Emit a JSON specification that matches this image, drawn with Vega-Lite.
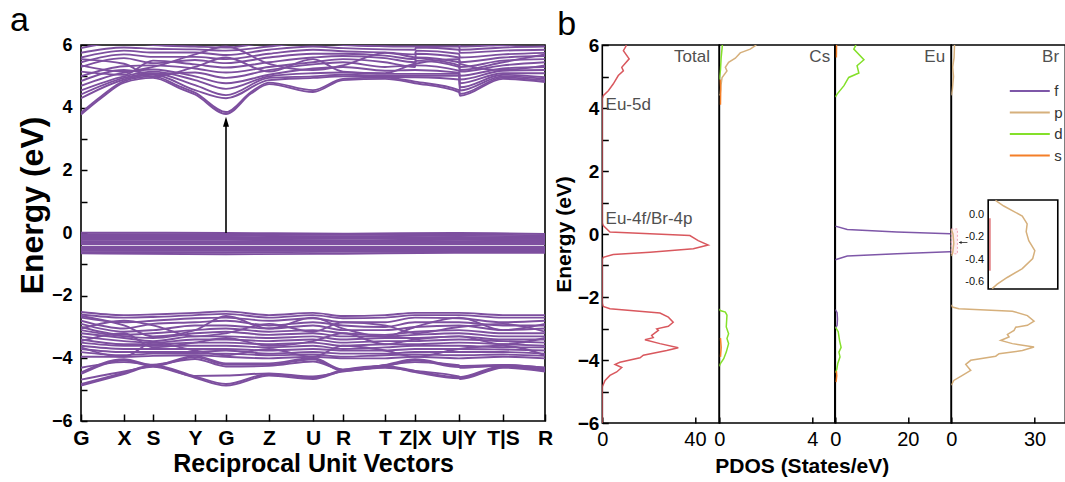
{
"$schema": "https://vega.github.io/schema/vega-lite/v6.json",
"background": "white",
"padding": {"left": 9, "top": 3, "right": 0, "bottom": 0},
"config": {
  "font": "Liberation Sans",
  "view": {"stroke": "#000", "strokeWidth": 1.6},
  "axis": {"grid": false, "domain": false, "tickColor": "#000", "tickWidth": 1.5, "labelColor": "#000", "titleColor": "#000", "labelFont": "Liberation Sans", "titleFont": "Liberation Sans"},
  "title": {"font": "Liberation Sans", "color": "#000"},
  "text": {"font": "Liberation Sans"}
},
"datasets": {
"bands": [
{"b":"c1","k":0,"e":3.78},{"b":"c1","k":20,"e":4.3},{"b":"c1","k":43,"e":4.8},{"b":"c1","k":72,"e":4.95},{"b":"c1","k":100,"e":4.6},{"b":"c1","k":114,"e":4.42},{"b":"c1","k":145,"e":3.8},{"b":"c1","k":170,"e":4.45},{"b":"c1","k":188,"e":4.75},{"b":"c1","k":232,"e":4.5},{"b":"c1","k":262,"e":4.88},{"b":"c1","k":304,"e":4.92},{"b":"c1","k":334,"e":4.78},{"b":"c1","k":378,"e":4.5},{"b":"c1","k":379,"e":4.38},{"b":"c1","k":422,"e":4.92},{"b":"c1","k":464,"e":4.82},
{"b":"c2","k":0,"e":3.84},{"b":"c2","k":20,"e":4.36},{"b":"c2","k":43,"e":4.85},{"b":"c2","k":72,"e":5.0},{"b":"c2","k":100,"e":4.66},{"b":"c2","k":114,"e":4.48},{"b":"c2","k":145,"e":3.86},{"b":"c2","k":170,"e":4.5},{"b":"c2","k":188,"e":4.8},{"b":"c2","k":232,"e":4.56},{"b":"c2","k":262,"e":4.92},{"b":"c2","k":304,"e":4.96},{"b":"c2","k":334,"e":4.83},{"b":"c2","k":378,"e":4.56},{"b":"c2","k":379,"e":4.44},{"b":"c2","k":422,"e":4.96},{"b":"c2","k":464,"e":4.87},
{"b":"c3","k":0,"e":4.3},{"b":"c3","k":43,"e":4.9},{"b":"c3","k":72,"e":5.05},{"b":"c3","k":114,"e":4.56},{"b":"c3","k":145,"e":4.3},{"b":"c3","k":188,"e":4.88},{"b":"c3","k":232,"e":4.95},{"b":"c3","k":262,"e":5.0},{"b":"c3","k":304,"e":4.98},{"b":"c3","k":334,"e":4.97},{"b":"c3","k":378,"e":4.9},{"b":"c3","k":379,"e":4.55},{"b":"c3","k":422,"e":5.0},{"b":"c3","k":464,"e":4.92},
{"b":"c4","k":0,"e":4.42},{"b":"c4","k":43,"e":4.95},{"b":"c4","k":72,"e":5.1},{"b":"c4","k":114,"e":4.72},{"b":"c4","k":145,"e":4.4},{"b":"c4","k":188,"e":4.95},{"b":"c4","k":232,"e":5.0},{"b":"c4","k":262,"e":5.05},{"b":"c4","k":304,"e":5.02},{"b":"c4","k":334,"e":5.02},{"b":"c4","k":378,"e":5.02},{"b":"c4","k":379,"e":4.65},{"b":"c4","k":422,"e":5.05},{"b":"c4","k":464,"e":4.97},
{"b":"c5","k":0,"e":4.55},{"b":"c5","k":43,"e":5.0},{"b":"c5","k":72,"e":5.15},{"b":"c5","k":114,"e":4.88},{"b":"c5","k":145,"e":4.6},{"b":"c5","k":188,"e":5.0},{"b":"c5","k":232,"e":5.1},{"b":"c5","k":262,"e":5.12},{"b":"c5","k":304,"e":5.08},{"b":"c5","k":334,"e":5.08},{"b":"c5","k":378,"e":5.08},{"b":"c5","k":379,"e":4.78},{"b":"c5","k":422,"e":5.1},{"b":"c5","k":464,"e":5.1},
{"b":"c6","k":0,"e":4.7},{"b":"c6","k":43,"e":5.12},{"b":"c6","k":72,"e":5.22},{"b":"c6","k":114,"e":5.0},{"b":"c6","k":145,"e":4.78},{"b":"c6","k":188,"e":5.05},{"b":"c6","k":232,"e":5.25},{"b":"c6","k":262,"e":5.3},{"b":"c6","k":304,"e":5.18},{"b":"c6","k":334,"e":5.2},{"b":"c6","k":378,"e":5.12},{"b":"c6","k":379,"e":4.9},{"b":"c6","k":422,"e":5.18},{"b":"c6","k":464,"e":5.2},
{"b":"c7","k":0,"e":4.85},{"b":"c7","k":43,"e":5.2},{"b":"c7","k":72,"e":5.08},{"b":"c7","k":114,"e":5.12},{"b":"c7","k":145,"e":4.95},{"b":"c7","k":188,"e":5.2},{"b":"c7","k":232,"e":5.38},{"b":"c7","k":262,"e":5.45},{"b":"c7","k":304,"e":5.3},{"b":"c7","k":334,"e":5.35},{"b":"c7","k":378,"e":5.18},{"b":"c7","k":379,"e":5.02},{"b":"c7","k":422,"e":5.25},{"b":"c7","k":464,"e":5.3},
{"b":"c8","k":0,"e":5.0},{"b":"c8","k":43,"e":5.32},{"b":"c8","k":72,"e":5.35},{"b":"c8","k":114,"e":5.25},{"b":"c8","k":145,"e":5.12},{"b":"c8","k":188,"e":5.3},{"b":"c8","k":232,"e":5.45},{"b":"c8","k":262,"e":5.55},{"b":"c8","k":304,"e":5.45},{"b":"c8","k":334,"e":5.3},{"b":"c8","k":335,"e":5.5},{"b":"c8","k":378,"e":5.3},{"b":"c8","k":379,"e":5.15},{"b":"c8","k":422,"e":5.35},{"b":"c8","k":464,"e":5.45},
{"b":"c9","k":0,"e":5.15},{"b":"c9","k":43,"e":5.05},{"b":"c9","k":72,"e":5.5},{"b":"c9","k":114,"e":5.38},{"b":"c9","k":145,"e":5.28},{"b":"c9","k":188,"e":5.45},{"b":"c9","k":232,"e":5.6},{"b":"c9","k":262,"e":5.65},{"b":"c9","k":304,"e":5.58},{"b":"c9","k":334,"e":5.45},{"b":"c9","k":335,"e":5.6},{"b":"c9","k":378,"e":5.45},{"b":"c9","k":379,"e":5.3},{"b":"c9","k":422,"e":5.5},{"b":"c9","k":464,"e":5.55},
{"b":"c10","k":0,"e":5.3},{"b":"c10","k":43,"e":5.58},{"b":"c10","k":72,"e":5.42},{"b":"c10","k":114,"e":5.52},{"b":"c10","k":145,"e":5.42},{"b":"c10","k":188,"e":5.6},{"b":"c10","k":232,"e":5.72},{"b":"c10","k":262,"e":5.72},{"b":"c10","k":304,"e":5.66},{"b":"c10","k":334,"e":5.55},{"b":"c10","k":335,"e":5.72},{"b":"c10","k":378,"e":5.6},{"b":"c10","k":379,"e":5.45},{"b":"c10","k":422,"e":5.6},{"b":"c10","k":464,"e":5.65},
{"b":"c11","k":0,"e":5.45},{"b":"c11","k":43,"e":5.7},{"b":"c11","k":72,"e":5.62},{"b":"c11","k":114,"e":5.62},{"b":"c11","k":145,"e":5.55},{"b":"c11","k":188,"e":5.72},{"b":"c11","k":232,"e":5.85},{"b":"c11","k":262,"e":5.8},{"b":"c11","k":304,"e":5.76},{"b":"c11","k":334,"e":5.7},{"b":"c11","k":335,"e":5.82},{"b":"c11","k":378,"e":5.72},{"b":"c11","k":379,"e":5.6},{"b":"c11","k":422,"e":5.7},{"b":"c11","k":464,"e":5.75},
{"b":"c12","k":0,"e":5.6},{"b":"c12","k":43,"e":5.82},{"b":"c12","k":72,"e":5.76},{"b":"c12","k":114,"e":5.76},{"b":"c12","k":145,"e":5.68},{"b":"c12","k":188,"e":5.85},{"b":"c12","k":232,"e":5.95},{"b":"c12","k":262,"e":5.9},{"b":"c12","k":304,"e":5.86},{"b":"c12","k":334,"e":5.85},{"b":"c12","k":335,"e":5.92},{"b":"c12","k":378,"e":5.85},{"b":"c12","k":379,"e":5.75},{"b":"c12","k":422,"e":5.82},{"b":"c12","k":464,"e":5.85},
{"b":"c13","k":0,"e":5.75},{"b":"c13","k":43,"e":5.92},{"b":"c13","k":72,"e":5.88},{"b":"c13","k":114,"e":5.86},{"b":"c13","k":145,"e":5.82},{"b":"c13","k":188,"e":5.95},{"b":"c13","k":232,"e":6.1},{"b":"c13","k":262,"e":6.0},{"b":"c13","k":304,"e":5.96},{"b":"c13","k":334,"e":5.95},{"b":"c13","k":378,"e":5.95},{"b":"c13","k":379,"e":5.85},{"b":"c13","k":422,"e":5.92},{"b":"c13","k":464,"e":5.95},
{"b":"c14","k":0,"e":5.9},{"b":"c14","k":43,"e":6.1},{"b":"c14","k":72,"e":6.0},{"b":"c14","k":114,"e":5.95},{"b":"c14","k":145,"e":5.92},{"b":"c14","k":188,"e":6.1},{"b":"c14","k":232,"e":6.2},{"b":"c14","k":262,"e":6.1},{"b":"c14","k":304,"e":6.05},{"b":"c14","k":334,"e":6.05},{"b":"c14","k":378,"e":6.05},{"b":"c14","k":379,"e":5.95},{"b":"c14","k":422,"e":6.0},{"b":"c14","k":464,"e":6.05},
{"b":"c15","k":0,"e":5.35},{"b":"c15","k":43,"e":5.15},{"b":"c15","k":72,"e":5.3},{"b":"c15","k":114,"e":5.7},{"b":"c15","k":145,"e":5.95},{"b":"c15","k":188,"e":5.4},{"b":"c15","k":232,"e":5.2},{"b":"c15","k":262,"e":5.35},{"b":"c15","k":304,"e":5.75},{"b":"c15","k":334,"e":5.6},{"b":"c15","k":378,"e":5.35},{"b":"c15","k":379,"e":5.2},{"b":"c15","k":422,"e":5.45},{"b":"c15","k":464,"e":5.7},
{"b":"c16","k":0,"e":5.55},{"b":"c16","k":43,"e":5.4},{"b":"c16","k":72,"e":4.98},{"b":"c16","k":114,"e":5.3},{"b":"c16","k":145,"e":5.6},{"b":"c16","k":188,"e":5.15},{"b":"c16","k":232,"e":5.55},{"b":"c16","k":262,"e":5.15},{"b":"c16","k":304,"e":5.1},{"b":"c16","k":334,"e":5.4},{"b":"c16","k":378,"e":5.55},{"b":"c16","k":379,"e":5.4},{"b":"c16","k":422,"e":5.2},{"b":"c16","k":464,"e":5.35},
{"b":"f1","k":0,"e":0.01},{"b":"f1","k":145,"e":0.0},{"b":"f1","k":262,"e":-0.02},{"b":"f1","k":378,"e":0.0},{"b":"f1","k":464,"e":-0.03},
{"b":"f2","k":0,"e":-0.04},{"b":"f2","k":145,"e":-0.04},{"b":"f2","k":262,"e":-0.06},{"b":"f2","k":378,"e":-0.05},{"b":"f2","k":464,"e":-0.07},
{"b":"f3","k":0,"e":-0.08},{"b":"f3","k":145,"e":-0.09},{"b":"f3","k":262,"e":-0.1},{"b":"f3","k":378,"e":-0.09},{"b":"f3","k":464,"e":-0.11},
{"b":"f4","k":0,"e":-0.13},{"b":"f4","k":145,"e":-0.13},{"b":"f4","k":262,"e":-0.14},{"b":"f4","k":378,"e":-0.13},{"b":"f4","k":464,"e":-0.15},
{"b":"f5","k":0,"e":-0.18},{"b":"f5","k":145,"e":-0.17},{"b":"f5","k":262,"e":-0.18},{"b":"f5","k":378,"e":-0.18},{"b":"f5","k":464,"e":-0.19},
{"b":"f6","k":0,"e":-0.22},{"b":"f6","k":145,"e":-0.22},{"b":"f6","k":262,"e":-0.23},{"b":"f6","k":378,"e":-0.22},{"b":"f6","k":464,"e":-0.23},
{"b":"f7","k":0,"e":-0.26},{"b":"f7","k":145,"e":-0.27},{"b":"f7","k":262,"e":-0.27},{"b":"f7","k":378,"e":-0.26},{"b":"f7","k":464,"e":-0.27},
{"b":"f8","k":0,"e":-0.31},{"b":"f8","k":145,"e":-0.31},{"b":"f8","k":262,"e":-0.31},{"b":"f8","k":378,"e":-0.3},{"b":"f8","k":464,"e":-0.31},
{"b":"f9","k":0,"e":-0.35},{"b":"f9","k":145,"e":-0.35},{"b":"f9","k":262,"e":-0.35},{"b":"f9","k":378,"e":-0.35},{"b":"f9","k":464,"e":-0.35},
{"b":"f10","k":0,"e":-0.44},{"b":"f10","k":145,"e":-0.44},{"b":"f10","k":262,"e":-0.44},{"b":"f10","k":378,"e":-0.44},{"b":"f10","k":464,"e":-0.44},
{"b":"f11","k":0,"e":-0.48},{"b":"f11","k":145,"e":-0.48},{"b":"f11","k":262,"e":-0.48},{"b":"f11","k":378,"e":-0.48},{"b":"f11","k":464,"e":-0.48},
{"b":"f12","k":0,"e":-0.52},{"b":"f12","k":145,"e":-0.53},{"b":"f12","k":262,"e":-0.52},{"b":"f12","k":378,"e":-0.52},{"b":"f12","k":464,"e":-0.52},
{"b":"f13","k":0,"e":-0.57},{"b":"f13","k":145,"e":-0.57},{"b":"f13","k":262,"e":-0.56},{"b":"f13","k":378,"e":-0.56},{"b":"f13","k":464,"e":-0.56},
{"b":"f14","k":0,"e":-0.61},{"b":"f14","k":145,"e":-0.62},{"b":"f14","k":262,"e":-0.6},{"b":"f14","k":378,"e":-0.6},{"b":"f14","k":464,"e":-0.6},
{"b":"f15","k":0,"e":-0.65},{"b":"f15","k":145,"e":-0.68},{"b":"f15","k":262,"e":-0.66},{"b":"f15","k":378,"e":-0.63},{"b":"f15","k":464,"e":-0.63},
{"b":"L1","k":0,"e":-4.87},{"b":"L1","k":43,"e":-4.5},{"b":"L1","k":72,"e":-4.25},{"b":"L1","k":114,"e":-4.62},{"b":"L1","k":145,"e":-4.87},{"b":"L1","k":188,"e":-4.55},{"b":"L1","k":232,"e":-4.66},{"b":"L1","k":262,"e":-4.4},{"b":"L1","k":304,"e":-4.27},{"b":"L1","k":334,"e":-4.44},{"b":"L1","k":378,"e":-4.64},{"b":"L1","k":422,"e":-4.27},{"b":"L1","k":464,"e":-4.4},
{"b":"L1b","k":0,"e":-4.82},{"b":"L1b","k":43,"e":-4.46},{"b":"L1b","k":72,"e":-4.22},{"b":"L1b","k":114,"e":-4.58},{"b":"L1b","k":145,"e":-4.82},{"b":"L1b","k":188,"e":-4.5},{"b":"L1b","k":232,"e":-4.62},{"b":"L1b","k":262,"e":-4.37},{"b":"L1b","k":304,"e":-4.24},{"b":"L1b","k":334,"e":-4.4},{"b":"L1b","k":378,"e":-4.6},{"b":"L1b","k":422,"e":-4.24},{"b":"L1b","k":464,"e":-4.37},
{"b":"L2","k":0,"e":-4.5},{"b":"L2","k":43,"e":-4.07},{"b":"L2","k":72,"e":-4.25},{"b":"L2","k":114,"e":-3.96},{"b":"L2","k":145,"e":-4.2},{"b":"L2","k":188,"e":-4.2},{"b":"L2","k":232,"e":-4.03},{"b":"L2","k":262,"e":-4.4},{"b":"L2","k":304,"e":-4.25},{"b":"L2","k":334,"e":-4.07},{"b":"L2","k":378,"e":-4.28},{"b":"L2","k":422,"e":-4.25},{"b":"L2","k":464,"e":-4.33},
{"b":"L2b","k":0,"e":-4.45},{"b":"L2b","k":43,"e":-4.03},{"b":"L2b","k":72,"e":-4.22},{"b":"L2b","k":114,"e":-3.92},{"b":"L2b","k":145,"e":-4.16},{"b":"L2b","k":188,"e":-4.16},{"b":"L2b","k":232,"e":-3.99},{"b":"L2b","k":262,"e":-4.36},{"b":"L2b","k":304,"e":-4.21},{"b":"L2b","k":334,"e":-4.03},{"b":"L2b","k":378,"e":-4.24},{"b":"L2b","k":422,"e":-4.21},{"b":"L2b","k":464,"e":-4.3},
{"b":"L3","k":0,"e":-4.68},{"b":"L3","k":43,"e":-4.42},{"b":"L3","k":72,"e":-4.27},{"b":"L3","k":114,"e":-4.56},{"b":"L3","k":145,"e":-4.55},{"b":"L3","k":188,"e":-4.48},{"b":"L3","k":232,"e":-4.58},{"b":"L3","k":262,"e":-4.42},{"b":"L3","k":304,"e":-4.3},{"b":"L3","k":334,"e":-4.4},{"b":"L3","k":378,"e":-4.58},{"b":"L3","k":379,"e":-4.66},{"b":"L3","k":422,"e":-4.3},{"b":"L3","k":464,"e":-4.42},
{"b":"L4","k":0,"e":-4.3},{"b":"L4","k":43,"e":-4.12},{"b":"L4","k":72,"e":-4.2},{"b":"L4","k":114,"e":-4.02},{"b":"L4","k":145,"e":-4.26},{"b":"L4","k":188,"e":-4.24},{"b":"L4","k":232,"e":-4.1},{"b":"L4","k":262,"e":-4.36},{"b":"L4","k":304,"e":-4.22},{"b":"L4","k":334,"e":-4.12},{"b":"L4","k":378,"e":-4.22},{"b":"L4","k":379,"e":-4.3},{"b":"L4","k":422,"e":-4.22},{"b":"L4","k":464,"e":-4.3},
{"b":"V1","k":0,"e":-2.52},{"b":"V1","k":43,"e":-2.62},{"b":"V1","k":72,"e":-2.6},{"b":"V1","k":114,"e":-2.55},{"b":"V1","k":145,"e":-2.5},{"b":"V1","k":188,"e":-2.62},{"b":"V1","k":232,"e":-2.55},{"b":"V1","k":262,"e":-2.65},{"b":"V1","k":304,"e":-2.62},{"b":"V1","k":334,"e":-2.55},{"b":"V1","k":378,"e":-2.55},{"b":"V1","k":422,"e":-2.62},{"b":"V1","k":464,"e":-2.62},
{"b":"V2","k":0,"e":-2.6},{"b":"V2","k":43,"e":-2.7},{"b":"V2","k":72,"e":-2.68},{"b":"V2","k":114,"e":-2.62},{"b":"V2","k":145,"e":-2.58},{"b":"V2","k":188,"e":-2.7},{"b":"V2","k":232,"e":-2.62},{"b":"V2","k":262,"e":-2.72},{"b":"V2","k":304,"e":-2.7},{"b":"V2","k":334,"e":-2.62},{"b":"V2","k":378,"e":-2.62},{"b":"V2","k":422,"e":-2.7},{"b":"V2","k":464,"e":-2.7},
{"b":"V3","k":0,"e":-2.7},{"b":"V3","k":43,"e":-2.85},{"b":"V3","k":72,"e":-2.8},{"b":"V3","k":114,"e":-2.72},{"b":"V3","k":145,"e":-2.7},{"b":"V3","k":188,"e":-2.8},{"b":"V3","k":232,"e":-2.72},{"b":"V3","k":262,"e":-2.85},{"b":"V3","k":304,"e":-2.85},{"b":"V3","k":334,"e":-2.7},{"b":"V3","k":378,"e":-2.72},{"b":"V3","k":422,"e":-2.85},{"b":"V3","k":464,"e":-2.8},
{"b":"V4","k":0,"e":-2.8},{"b":"V4","k":43,"e":-3.05},{"b":"V4","k":72,"e":-2.9},{"b":"V4","k":114,"e":-2.85},{"b":"V4","k":145,"e":-2.8},{"b":"V4","k":188,"e":-2.95},{"b":"V4","k":232,"e":-2.85},{"b":"V4","k":262,"e":-2.95},{"b":"V4","k":304,"e":-3.0},{"b":"V4","k":334,"e":-2.85},{"b":"V4","k":378,"e":-2.85},{"b":"V4","k":422,"e":-2.95},{"b":"V4","k":464,"e":-2.95},
{"b":"V5","k":0,"e":-2.9},{"b":"V5","k":43,"e":-3.15},{"b":"V5","k":72,"e":-3.1},{"b":"V5","k":114,"e":-2.95},{"b":"V5","k":145,"e":-2.95},{"b":"V5","k":188,"e":-3.05},{"b":"V5","k":232,"e":-2.95},{"b":"V5","k":262,"e":-3.1},{"b":"V5","k":304,"e":-3.1},{"b":"V5","k":334,"e":-3.0},{"b":"V5","k":378,"e":-2.95},{"b":"V5","k":422,"e":-3.1},{"b":"V5","k":464,"e":-3.05},
{"b":"V6","k":0,"e":-3.0},{"b":"V6","k":43,"e":-3.25},{"b":"V6","k":72,"e":-3.2},{"b":"V6","k":114,"e":-3.1},{"b":"V6","k":145,"e":-3.05},{"b":"V6","k":188,"e":-3.15},{"b":"V6","k":232,"e":-3.1},{"b":"V6","k":262,"e":-3.2},{"b":"V6","k":304,"e":-3.25},{"b":"V6","k":334,"e":-3.15},{"b":"V6","k":378,"e":-3.1},{"b":"V6","k":422,"e":-3.2},{"b":"V6","k":464,"e":-3.2},
{"b":"V7","k":0,"e":-3.1},{"b":"V7","k":43,"e":-3.3},{"b":"V7","k":72,"e":-3.35},{"b":"V7","k":114,"e":-3.2},{"b":"V7","k":145,"e":-3.15},{"b":"V7","k":188,"e":-3.25},{"b":"V7","k":232,"e":-3.2},{"b":"V7","k":262,"e":-3.3},{"b":"V7","k":304,"e":-3.3},{"b":"V7","k":334,"e":-3.25},{"b":"V7","k":378,"e":-3.2},{"b":"V7","k":422,"e":-3.3},{"b":"V7","k":464,"e":-3.3},
{"b":"V8","k":0,"e":-3.2},{"b":"V8","k":43,"e":-3.35},{"b":"V8","k":72,"e":-3.45},{"b":"V8","k":114,"e":-3.3},{"b":"V8","k":145,"e":-3.3},{"b":"V8","k":188,"e":-3.35},{"b":"V8","k":232,"e":-3.3},{"b":"V8","k":262,"e":-3.4},{"b":"V8","k":304,"e":-3.35},{"b":"V8","k":334,"e":-3.35},{"b":"V8","k":378,"e":-3.3},{"b":"V8","k":422,"e":-3.4},{"b":"V8","k":464,"e":-3.4},
{"b":"V9","k":0,"e":-3.3},{"b":"V9","k":43,"e":-3.45},{"b":"V9","k":72,"e":-3.5},{"b":"V9","k":114,"e":-3.4},{"b":"V9","k":145,"e":-3.4},{"b":"V9","k":188,"e":-3.45},{"b":"V9","k":232,"e":-3.4},{"b":"V9","k":262,"e":-3.5},{"b":"V9","k":304,"e":-3.45},{"b":"V9","k":334,"e":-3.45},{"b":"V9","k":378,"e":-3.4},{"b":"V9","k":422,"e":-3.45},{"b":"V9","k":464,"e":-3.5},
{"b":"V10","k":0,"e":-3.4},{"b":"V10","k":43,"e":-3.55},{"b":"V10","k":72,"e":-3.55},{"b":"V10","k":114,"e":-3.5},{"b":"V10","k":145,"e":-3.5},{"b":"V10","k":188,"e":-3.55},{"b":"V10","k":232,"e":-3.5},{"b":"V10","k":262,"e":-3.6},{"b":"V10","k":304,"e":-3.55},{"b":"V10","k":334,"e":-3.55},{"b":"V10","k":378,"e":-3.5},{"b":"V10","k":422,"e":-3.55},{"b":"V10","k":464,"e":-3.6},
{"b":"V11","k":0,"e":-3.5},{"b":"V11","k":43,"e":-3.6},{"b":"V11","k":72,"e":-3.6},{"b":"V11","k":114,"e":-3.6},{"b":"V11","k":145,"e":-3.6},{"b":"V11","k":188,"e":-3.65},{"b":"V11","k":232,"e":-3.6},{"b":"V11","k":262,"e":-3.7},{"b":"V11","k":304,"e":-3.65},{"b":"V11","k":334,"e":-3.6},{"b":"V11","k":378,"e":-3.6},{"b":"V11","k":422,"e":-3.65},{"b":"V11","k":464,"e":-3.65},
{"b":"V12","k":0,"e":-3.6},{"b":"V12","k":43,"e":-3.7},{"b":"V12","k":72,"e":-3.7},{"b":"V12","k":114,"e":-3.7},{"b":"V12","k":145,"e":-3.7},{"b":"V12","k":188,"e":-3.75},{"b":"V12","k":232,"e":-3.7},{"b":"V12","k":262,"e":-3.75},{"b":"V12","k":304,"e":-3.75},{"b":"V12","k":334,"e":-3.7},{"b":"V12","k":378,"e":-3.7},{"b":"V12","k":422,"e":-3.72},{"b":"V12","k":464,"e":-3.75},
{"b":"V13","k":0,"e":-3.7},{"b":"V13","k":43,"e":-3.8},{"b":"V13","k":72,"e":-3.8},{"b":"V13","k":114,"e":-3.8},{"b":"V13","k":145,"e":-3.75},{"b":"V13","k":188,"e":-3.85},{"b":"V13","k":232,"e":-3.8},{"b":"V13","k":262,"e":-3.85},{"b":"V13","k":304,"e":-3.85},{"b":"V13","k":334,"e":-3.8},{"b":"V13","k":378,"e":-3.8},{"b":"V13","k":422,"e":-3.8},{"b":"V13","k":464,"e":-3.85},
{"b":"V14","k":0,"e":-3.8},{"b":"V14","k":43,"e":-3.9},{"b":"V14","k":72,"e":-3.85},{"b":"V14","k":114,"e":-3.85},{"b":"V14","k":145,"e":-3.85},{"b":"V14","k":188,"e":-3.9},{"b":"V14","k":232,"e":-3.88},{"b":"V14","k":262,"e":-3.95},{"b":"V14","k":304,"e":-3.9},{"b":"V14","k":334,"e":-3.88},{"b":"V14","k":378,"e":-3.9},{"b":"V14","k":422,"e":-3.88},{"b":"V14","k":464,"e":-3.92},
{"b":"V15","k":0,"e":-3.95},{"b":"V15","k":43,"e":-3.95},{"b":"V15","k":72,"e":-3.92},{"b":"V15","k":114,"e":-3.9},{"b":"V15","k":145,"e":-3.95},{"b":"V15","k":188,"e":-4.0},{"b":"V15","k":232,"e":-3.95},{"b":"V15","k":262,"e":-4.0},{"b":"V15","k":304,"e":-4.0},{"b":"V15","k":334,"e":-3.95},{"b":"V15","k":378,"e":-4.0},{"b":"V15","k":422,"e":-3.95},{"b":"V15","k":464,"e":-4.0},
{"b":"V16","k":0,"e":-2.65},{"b":"V16","k":43,"e":-2.95},{"b":"V16","k":72,"e":-3.3},{"b":"V16","k":114,"e":-3.1},{"b":"V16","k":145,"e":-2.65},{"b":"V16","k":188,"e":-3.05},{"b":"V16","k":232,"e":-2.7},{"b":"V16","k":262,"e":-3.05},{"b":"V16","k":304,"e":-3.3},{"b":"V16","k":334,"e":-3.0},{"b":"V16","k":378,"e":-2.7},{"b":"V16","k":422,"e":-3.1},{"b":"V16","k":464,"e":-2.9},
{"b":"V17","k":0,"e":-3.05},{"b":"V17","k":43,"e":-2.8},{"b":"V17","k":72,"e":-2.95},{"b":"V17","k":114,"e":-3.3},{"b":"V17","k":145,"e":-3.2},{"b":"V17","k":188,"e":-2.9},{"b":"V17","k":232,"e":-3.15},{"b":"V17","k":262,"e":-2.85},{"b":"V17","k":304,"e":-2.95},{"b":"V17","k":334,"e":-3.2},{"b":"V17","k":378,"e":-3.0},{"b":"V17","k":422,"e":-2.9},{"b":"V17","k":464,"e":-3.15},
{"b":"V18","k":0,"e":-3.45},{"b":"V18","k":43,"e":-3.2},{"b":"V18","k":72,"e":-3.65},{"b":"V18","k":114,"e":-3.5},{"b":"V18","k":145,"e":-3.35},{"b":"V18","k":188,"e":-3.6},{"b":"V18","k":232,"e":-3.45},{"b":"V18","k":262,"e":-3.2},{"b":"V18","k":304,"e":-3.55},{"b":"V18","k":334,"e":-3.4},{"b":"V18","k":378,"e":-3.3},{"b":"V18","k":422,"e":-3.55},{"b":"V18","k":464,"e":-3.35},
{"b":"V19","k":0,"e":-3.65},{"b":"V19","k":43,"e":-3.95},{"b":"V19","k":72,"e":-3.5},{"b":"V19","k":114,"e":-3.75},{"b":"V19","k":145,"e":-3.9},{"b":"V19","k":188,"e":-3.7},{"b":"V19","k":232,"e":-3.95},{"b":"V19","k":262,"e":-3.6},{"b":"V19","k":304,"e":-3.75},{"b":"V19","k":334,"e":-3.95},{"b":"V19","k":378,"e":-3.7},{"b":"V19","k":422,"e":-3.6},{"b":"V19","k":464,"e":-3.9}
],
"total": [
{"v":0,"e":-6},{"v":0,"e":-4.85},{"v":1.2,"e":-4.65},{"v":3.3,"e":-4.49},{"v":6.2,"e":-4.38},{"v":8.4,"e":-4.24},{"v":5.5,"e":-4.14},{"v":7.6,"e":-4.07},{"v":16.3,"e":-3.93},{"v":17.7,"e":-3.85},{"v":27.8,"e":-3.7},{"v":32.8,"e":-3.61},{"v":24.9,"e":-3.48},{"v":18.4,"e":-3.36},{"v":22,"e":-3.29},{"v":21.3,"e":-3.22},{"v":24.2,"e":-3.06},{"v":23.5,"e":-3.01},{"v":28.5,"e":-2.93},{"v":30.6,"e":-2.8},{"v":28.5,"e":-2.64},{"v":24.9,"e":-2.51},{"v":3.3,"e":-2.37},{"v":0.4,"e":-2.3},{"v":0,"e":-2.2},
{"v":0,"e":-0.8},{"v":0.4,"e":-0.74},{"v":4.7,"e":-0.65},{"v":20.6,"e":-0.58},{"v":39.3,"e":-0.47},{"v":45.7,"e":-0.35},{"v":41.4,"e":-0.21},{"v":37.8,"e":-0.05},{"v":20.6,"e":0.01},{"v":3.3,"e":0.06},{"v":0.4,"e":0.27},{"v":0,"e":0.35},
{"v":0,"e":4.3},{"v":0.4,"e":4.39},{"v":2.6,"e":4.55},{"v":4.7,"e":4.76},{"v":6.9,"e":5.03},{"v":9.1,"e":5.18},{"v":8.4,"e":5.29},{"v":11.6,"e":5.56},{"v":9.1,"e":5.82},{"v":10.2,"e":5.96},{"v":10.5,"e":6.1}
],
"cs": [
{"o":"p","g":"p1","v":0,"e":4.4},{"o":"p","g":"p1","v":0.04,"e":4.45},{"o":"p","g":"p1","v":0.07,"e":4.71},{"o":"p","g":"p1","v":0.12,"e":4.97},{"o":"p","g":"p1","v":0.33,"e":5.18},{"o":"p","g":"p1","v":0.26,"e":5.29},{"o":"p","g":"p1","v":0.4,"e":5.45},{"o":"p","g":"p1","v":0.69,"e":5.58},{"o":"p","g":"p1","v":0.9,"e":5.75},{"o":"p","g":"p1","v":1.33,"e":5.87},{"o":"p","g":"p1","v":1.55,"e":5.98},{"o":"p","g":"p1","v":1.7,"e":6.1},
{"o":"d","g":"d1","v":0,"e":4.9},{"o":"d","g":"d1","v":0.05,"e":5.2},{"o":"d","g":"d1","v":0.08,"e":5.6},{"o":"d","g":"d1","v":0.12,"e":5.9},{"o":"d","g":"d1","v":0.14,"e":6.1},
{"o":"d","g":"d2","v":0,"e":-4.2},{"o":"d","g":"d2","v":0.04,"e":-4.12},{"o":"d","g":"d2","v":0.19,"e":-3.96},{"o":"d","g":"d2","v":0.3,"e":-3.75},{"o":"d","g":"d2","v":0.4,"e":-3.48},{"o":"d","g":"d2","v":0.33,"e":-3.32},{"o":"d","g":"d2","v":0.4,"e":-3.17},{"o":"d","g":"d2","v":0.3,"e":-2.95},{"o":"d","g":"d2","v":0.33,"e":-2.58},{"o":"d","g":"d2","v":0.26,"e":-2.48},{"o":"d","g":"d2","v":0.04,"e":-2.43},{"o":"d","g":"d2","v":0,"e":-2.38},
{"o":"s","g":"s1","v":0.05,"e":4.1},{"o":"s","g":"s1","v":0.06,"e":4.6},{"o":"s","g":"s1","v":0.04,"e":4.9},
{"o":"s","g":"s2","v":0.05,"e":-3.9},{"o":"s","g":"s2","v":0.08,"e":-3.6},{"o":"s","g":"s2","v":0.05,"e":-3.3}
],
"eu": [
{"o":"f","g":"f1","v":0,"e":-0.82},{"o":"f","g":"f1","v":3.3,"e":-0.7},{"o":"f","g":"f1","v":17,"e":-0.63},{"o":"f","g":"f1","v":31.5,"e":-0.565},{"o":"f","g":"f1","v":60,"e":-0.5},{"o":"f","g":"f1","v":80,"e":-0.3},{"o":"f","g":"f1","v":60,"e":-0.05},{"o":"f","g":"f1","v":31.7,"e":0.01},{"o":"f","g":"f1","v":17,"e":0.06},{"o":"f","g":"f1","v":3.3,"e":0.14},{"o":"f","g":"f1","v":0,"e":0.25},
{"o":"f","g":"f2","v":0,"e":-2.4},{"o":"f","g":"f2","v":0.5,"e":-2.5},{"o":"f","g":"f2","v":0.6,"e":-2.7},{"o":"f","g":"f2","v":0.5,"e":-2.9},{"o":"f","g":"f2","v":0,"e":-3.0},
{"o":"d","g":"d1","v":0,"e":4.35},{"o":"d","g":"d1","v":0.55,"e":4.45},{"o":"d","g":"d1","v":2.4,"e":4.71},{"o":"d","g":"d1","v":3.7,"e":4.97},{"o":"d","g":"d1","v":6.5,"e":5.11},{"o":"d","g":"d1","v":6.0,"e":5.34},{"o":"d","g":"d1","v":7.9,"e":5.53},{"o":"d","g":"d1","v":5.1,"e":5.87},{"o":"d","g":"d1","v":5.6,"e":5.98},{"o":"d","g":"d1","v":5.8,"e":6.1},
{"o":"d","g":"d2","v":0,"e":-2.95},{"o":"d","g":"d2","v":0.8,"e":-3.1},{"o":"d","g":"d2","v":1.2,"e":-3.4},{"o":"d","g":"d2","v":1.6,"e":-3.6},{"o":"d","g":"d2","v":1.0,"e":-3.75},{"o":"d","g":"d2","v":1.3,"e":-3.9},{"o":"d","g":"d2","v":0.7,"e":-4.1},{"o":"d","g":"d2","v":0.4,"e":-4.3},{"o":"d","g":"d2","v":0,"e":-4.4},
{"o":"s","g":"s1","v":0.3,"e":5.6},{"o":"s","g":"s1","v":0.35,"e":6.1},
{"o":"s","g":"s2","v":0.3,"e":-4.35},{"o":"s","g":"s2","v":0.4,"e":-4.5},{"o":"s","g":"s2","v":0.2,"e":-4.7}
],
"br": [
{"o":"p","g":"p1","v":0,"e":-4.8},{"o":"p","g":"p1","v":0.9,"e":-4.65},{"o":"p","g":"p1","v":4,"e":-4.49},{"o":"p","g":"p1","v":7,"e":-4.33},{"o":"p","g":"p1","v":5.2,"e":-4.14},{"o":"p","g":"p1","v":7,"e":-4.01},{"o":"p","g":"p1","v":16,"e":-3.88},{"o":"p","g":"p1","v":17.2,"e":-3.8},{"o":"p","g":"p1","v":25.6,"e":-3.7},{"o":"p","g":"p1","v":29.8,"e":-3.59},{"o":"p","g":"p1","v":22,"e":-3.48},{"o":"p","g":"p1","v":17.8,"e":-3.38},{"o":"p","g":"p1","v":20.8,"e":-3.27},{"o":"p","g":"p1","v":20.2,"e":-3.19},{"o":"p","g":"p1","v":22.6,"e":-3.06},{"o":"p","g":"p1","v":23.2,"e":-2.96},{"o":"p","g":"p1","v":27.4,"e":-2.9},{"o":"p","g":"p1","v":29.8,"e":-2.77},{"o":"p","g":"p1","v":27.4,"e":-2.59},{"o":"p","g":"p1","v":22,"e":-2.45},{"o":"p","g":"p1","v":2.7,"e":-2.37},{"o":"p","g":"p1","v":0.4,"e":-2.32},{"o":"p","g":"p1","v":0,"e":-2.25},
{"o":"p","g":"p2","v":0,"e":4.4},{"o":"p","g":"p2","v":0.4,"e":4.6},{"o":"p","g":"p2","v":0.8,"e":5.0},{"o":"p","g":"p2","v":0.5,"e":5.3},{"o":"p","g":"p2","v":1.0,"e":5.6},{"o":"p","g":"p2","v":1.2,"e":6.1},
{"o":"p","g":"p3","v":0,"e":-0.7},{"o":"p","g":"p3","v":0.5,"e":-0.6},{"o":"p","g":"p3","v":0.9,"e":-0.3},{"o":"p","g":"p3","v":0.6,"e":0.0},{"o":"p","g":"p3","v":0,"e":0.15}
],
"inset": [
{"ix":0.057,"ie":-0.66},{"ix":0.13,"ie":-0.62},{"ix":0.273,"ie":-0.56},{"ix":0.49,"ie":-0.48},{"ix":0.64,"ie":-0.39},{"ix":0.67,"ie":-0.32},{"ix":0.583,"ie":-0.23},{"ix":0.546,"ie":-0.15},{"ix":0.56,"ie":-0.08},{"ix":0.49,"ie":-0.01},{"ix":0.224,"ie":0.08},{"ix":0.105,"ie":0.13}
]
},
"hconcat": [
{
 "width": 464, "height": 376,
 "title": {"text": "a", "anchor": "start", "frame": "group", "dx": -71, "fontSize": 34, "fontWeight": "normal", "offset": -2},
 "encoding": {
   "x": {"field": "k", "type": "quantitative", "scale": {"domain": [0, 464], "nice": false, "zero": false},
     "axis": {"values": [0,43,72,114,145,188,232,262,304,334,378,422,464],
       "labelExpr": "['G','X','S','Y','G','Z','U','R','T','Z|X','U|Y','T|S','R'][indexof([0,43,72,114,145,188,232,262,304,334,378,422,464], datum.value)]",
       "labelFontSize": 21, "labelFontWeight": "bold", "labelFlush": false, "labelOverlap": false, "tickSize": -7, "labelPadding": 13,
       "title": "Reciprocal Unit Vectors", "titleFontSize": 25, "titleFontWeight": "bold", "titlePadding": 3}},
   "y": {"field": "e", "type": "quantitative", "scale": {"domain": [-6, 6], "nice": false, "zero": false},
     "axis": {"values": [-6,-5,-4,-3,-2,-1,0,1,2,3,4,5,6], "labelExpr": "datum.value % 2 == 0 ? datum.label : ''",
       "labelFontSize": 18, "labelFontWeight": "bold", "tickSize": -6, "labelPadding": 15,
       "title": "Energy (eV)", "titleFontSize": 32, "titleFontWeight": "bold", "titlePadding": 2, "titleY": 160}}
 },
 "layer": [
   {"data": {"name": "bands"}, "mark": {"type": "line", "color": "#7d4f9f", "strokeWidth": 1.9, "interpolate": "monotone", "clip": true},
    "encoding": {"detail": {"field": "b", "type": "nominal"}}},
   {"data": {"values": [{"k": 145, "e": 0, "e2": 3.5}]}, "mark": {"type": "rule", "color": "#000", "strokeWidth": 1.6},
    "encoding": {"y2": {"field": "e2"}}},
   {"data": {"values": [{"k": 145, "e": 3.55}]}, "mark": {"type": "point", "shape": "M0,-1L0.6,1L-0.6,1Z", "size": 100, "filled": true, "color": "#000", "opacity": 1},
    "encoding": {}}
 ]
},
{
 "hconcat": [
  {
   "width": 117, "height": 378,
   "title": {"text": "b", "anchor": "start", "frame": "group", "dx": -45, "fontSize": 34, "fontWeight": "normal", "offset": -6},
   "encoding": {
     "x": {"field": "v", "type": "quantitative", "scale": {"domain": [0, 50.5], "nice": false, "zero": false},
       "axis": {"values": [0, 40], "title": null, "labelFontSize": 20, "labelFlush": false, "tickSize": -6, "labelPadding": 12}},
     "y": {"field": "e", "type": "quantitative", "scale": {"domain": [-6, 6], "nice": false, "zero": false},
       "axis": {"values": [-6,-5,-4,-3,-2,-1,0,1,2,3,4,5,6], "labelExpr": "datum.value % 2 == 0 ? datum.label : ''",
         "labelFontSize": 19, "labelFontWeight": "bold", "tickSize": -6, "labelPadding": 9.5,
         "title": "Energy (eV)", "titleFontSize": 21, "titleFontWeight": "bold", "titlePadding": 3}}
   },
   "layer": [
     {"data": {"name": "total"}, "mark": {"type": "line", "color": "#d9585e", "strokeWidth": 1.5, "clip": true},
      "encoding": {"order": {"field": "e", "type": "quantitative"}}},
     {"data": {"values": [{"v": 46.5, "e": 5.63, "t": "Total"}]}, "mark": {"type": "text", "align": "right", "baseline": "middle", "fontSize": 17, "color": "#505050"},
      "encoding": {"text": {"field": "t"}}},
     {"data": {"values": [{"v": 1.4, "e": 4.11, "t": "Eu-5d"}, {"v": 1.4, "e": 0.49, "t": "Eu-4f/Br-4p"}]}, "mark": {"type": "text", "align": "left", "baseline": "middle", "fontSize": 17, "color": "#505050"},
      "encoding": {"text": {"field": "t"}}}
   ]
  },
  {
   "width": 115.5, "height": 378,
   "encoding": {
     "x": {"field": "v", "type": "quantitative", "scale": {"domain": [0, 4.97], "nice": false, "zero": false},
       "axis": {"values": [0, 4], "title": null, "labelFontSize": 20, "labelFlush": false, "tickSize": -6, "labelPadding": 12}},
     "y": {"field": "e", "type": "quantitative", "scale": {"domain": [-6, 6], "nice": false, "zero": false}, "axis": null}
   },
   "layer": [
     {"data": {"name": "cs"}, "mark": {"type": "line", "strokeWidth": 1.5, "clip": true},
      "encoding": {"color": {"field": "o", "type": "nominal", "scale": {"domain": ["f","p","d","s"], "range": ["#7e57a8","#d6b07c","#84e02a","#f47f28"]}, "legend": null},
                   "detail": {"field": "g", "type": "nominal"}, "order": {"field": "e", "type": "quantitative"}}},
     {"data": {"values": [{"v": 4.77, "e": 5.63, "t": "Cs"}]}, "mark": {"type": "text", "align": "right", "baseline": "middle", "fontSize": 17, "color": "#505050"},
      "encoding": {"text": {"field": "t"}}}
   ]
  },
  {
   "width": 116, "height": 378,
   "encoding": {
     "x": {"field": "v", "type": "quantitative", "scale": {"domain": [0, 32], "nice": false, "zero": false},
       "axis": {"values": [0, 20], "title": null, "labelFontSize": 20, "labelFlush": false, "tickSize": -6, "labelPadding": 12}},
     "y": {"field": "e", "type": "quantitative", "scale": {"domain": [-6, 6], "nice": false, "zero": false}, "axis": null}
   },
   "layer": [
     {"data": {"name": "eu"}, "mark": {"type": "line", "strokeWidth": 1.5, "clip": true},
      "encoding": {"color": {"field": "o", "type": "nominal", "scale": {"domain": ["f","p","d","s"], "range": ["#7e57a8","#d6b07c","#84e02a","#f47f28"]}, "legend": null},
                   "detail": {"field": "g", "type": "nominal"}, "order": {"field": "e", "type": "quantitative"}}},
     {"data": {"values": [{"v": 30.3, "e": 5.63, "t": "Eu"}]}, "mark": {"type": "text", "align": "right", "baseline": "middle", "fontSize": 17, "color": "#505050"},
      "encoding": {"text": {"field": "t"}}}
   ]
  },
  {
   "width": 114, "height": 378,
   "layer": [
     {
      "encoding": {
        "x": {"field": "v", "type": "quantitative", "scale": {"domain": [0, 41.05], "nice": false, "zero": false},
          "axis": {"values": [0, 30], "title": null, "labelFontSize": 20, "labelFlush": false, "tickSize": -6, "labelPadding": 12}},
        "y": {"field": "e", "type": "quantitative", "scale": {"domain": [-6, 6], "nice": false, "zero": false}, "axis": null}
      },
      "layer": [
        {"data": {"values": [{"v": 0, "v2": 2.2, "e": -0.63, "e2": 0.16}]}, "mark": {"type": "rect", "fill": "#fdeef2", "stroke": "#f2a5b8", "strokeWidth": 1, "strokeDash": [2, 2]},
         "encoding": {"x2": {"field": "v2"}, "y2": {"field": "e2"}}},
        {"data": {"name": "br"}, "mark": {"type": "line", "strokeWidth": 1.5, "clip": true},
         "encoding": {"color": {"field": "o", "type": "nominal", "scale": {"domain": ["f","p","d","s"], "range": ["#7e57a8","#d6b07c","#84e02a","#f47f28"]},
             "legend": {"orient": "none", "legendX": 71, "legendY": 38.5, "title": null, "symbolType": "M-4,0H4", "symbolSize": 100, "symbolStrokeWidth": 2, "labelFontSize": 15, "labelOffset": 17, "labelColor": "#333", "rowPadding": 5.5, "padding": 0, "labelFont": "Liberation Sans"}},
           "detail": {"field": "g", "type": "nominal"}, "order": {"field": "e", "type": "quantitative"}}},
        {"data": {"values": [{"v": 38.8, "e": 5.63, "t": "Br"}]}, "mark": {"type": "text", "align": "right", "baseline": "middle", "fontSize": 17, "color": "#505050"},
         "encoding": {"text": {"field": "t"}}},
        {"data": {"values": [{"v": 2.9, "v2": 5.8, "e": -0.27}]}, "mark": {"type": "rule", "color": "#222", "strokeWidth": 0.8},
         "encoding": {"x2": {"field": "v2"}}},
        {"data": {"values": [{"v": 3.2, "e": -0.27}]}, "mark": {"type": "point", "shape": "triangle-left", "size": 10, "filled": true, "color": "#222", "opacity": 1},
         "encoding": {}}
      ]
     },
     {
      "encoding": {
        "x": {"field": "ix", "type": "quantitative", "scale": {"domain": [-0.53, 1.108], "nice": false, "zero": false}, "axis": null},
        "y": {"field": "ie", "type": "quantitative", "scale": {"domain": [-1.863, 1.522], "nice": false, "zero": false}, "axis": null}
      },
      "layer": [
        {"data": {"values": [{"ix": 0, "ix2": 1, "ie": -0.663, "ie2": 0.134}]}, "mark": {"type": "rect", "fill": "white", "stroke": "#000", "strokeWidth": 1.6},
         "encoding": {"x2": {"field": "ix2"}, "y2": {"field": "ie2"}}},
        {"data": {"name": "inset"}, "mark": {"type": "line", "color": "#d6b07c", "strokeWidth": 1.5},
         "encoding": {"order": {"field": "ie", "type": "quantitative"}}},
        {"data": {"values": [{"ix": 0.025, "ie": -0.5}, {"ix": 0.025, "ie": -0.03}]}, "mark": {"type": "line", "color": "#d9585e", "strokeWidth": 1.3},
         "encoding": {"order": {"field": "ie", "type": "quantitative"}}},
        {"data": {"values": [{"ix": 0, "ie": 0, "t": "0.0"}, {"ix": 0, "ie": -0.2, "t": "-0.2"}, {"ix": 0, "ie": -0.4, "t": "-0.4"}, {"ix": 0, "ie": -0.6, "t": "-0.6"}]},
         "mark": {"type": "text", "align": "right", "baseline": "middle", "dx": -4, "fontSize": 11, "color": "#111"},
         "encoding": {"text": {"field": "t"}}}
      ]
     }
   ],
   "resolve": {"scale": {"x": "independent", "y": "independent"}}
  }
 ],
 "spacing": 0,
 "bounds": "flush",
 "title": {"text": "PDOS (States/eV)", "orient": "bottom", "anchor": "middle", "fontSize": 21, "fontWeight": "bold", "offset": 6, "dx": -7},
 "resolve": {"scale": {"color": "independent"}, "legend": {"color": "independent"}}
}
],
"bounds": "flush",
"spacing": 57.3
}
